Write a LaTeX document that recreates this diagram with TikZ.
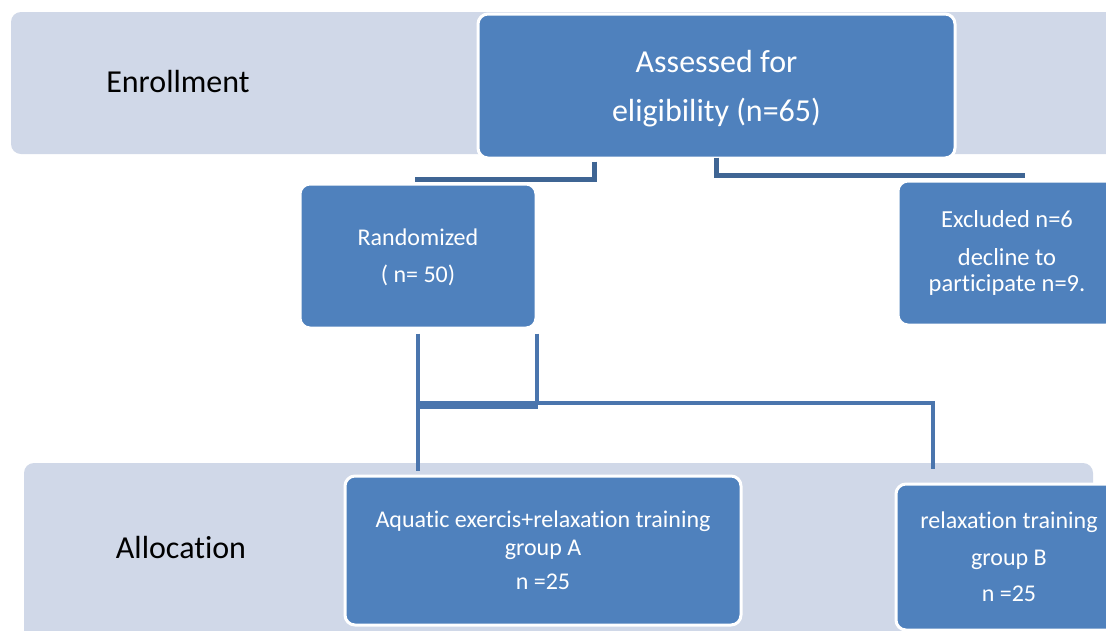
\documentclass[tikz,border=0pt]{standalone}
\usepackage{fontspec}
\setmainfont{Carlito}[Ligatures={NoCommon}]
\usetikzlibrary{calc}
\definecolor{bandfill}{HTML}{D0D8E8}
\definecolor{boxblue}{HTML}{4F81BD}
\definecolor{lineA}{HTML}{3F6594}
\definecolor{lineB}{HTML}{4A75AD}
\tikzset{
  bandshape/.style={fill=bandfill, rounded corners=10pt},
  bandlabel/.style={text=black, font=\fontsize{32}{38}\selectfont, inner sep=0pt},
  bluebox/.style={rectangle, rounded corners=10pt, fill=boxblue, draw=white, line width=3pt, text=white, align=center, inner sep=0pt},
  connA/.style={draw=lineA, line width=4.5pt},
  connB/.style={draw=lineB, line width=4.5pt},
}
\begin{document}
\begin{tikzpicture}[x=1pt,y=-1pt]
\useasboundingbox (0,0) rectangle (1106,630);
\clip (0,0) rectangle (1106,630);
\fill[white] (0,0) rectangle (1106,630);
% bands
\fill[bandshape] (11,12) rectangle (1140,154);
\fill[bandshape] (24,463) rectangle (1093,650);
\node[bandlabel] (enr) at (178,82) {Enrollment};
\node[bandlabel] (alloc) at (181,547) {Allocation};
% boxes
\node[bluebox, minimum width=477pt, minimum height=144pt, font=\fontsize{32}{37}\selectfont, text depth=0pt] (assess) at (716.5,86) {Assessed for\\[12pt]eligibility (n=65)};
\node[bluebox, minimum width=236pt, minimum height=144pt, font=\fontsize{24}{29}\selectfont, text depth=0pt] (rand) at (418,256) {Randomized\\[8pt]( n= 50)};
\node[bluebox, minimum width=218pt, minimum height=144pt, font=\fontsize{24.5}{26}\selectfont] (excl) at (1007,253) {Excluded n=6\\[12pt]decline to\\participate n=9.};
\node[bluebox, minimum width=396pt, minimum height=149pt, font=\fontsize{24}{28}\selectfont] (grpA) at (543,550.5) {Aquatic exercis+relaxation training\\group A\\[6pt]n =25};
\node[bluebox, minimum width=226pt, minimum height=146pt, font=\fontsize{24}{36.5}\selectfont] (grpB) at (1009,557) {relaxation training\\group B\\n =25};
% connectors
\draw[connA] ([xshift=-122pt,yshift=-2pt]assess.south) |- ([xshift=-3pt,yshift=3pt]rand.north);
\draw[connA] ([yshift=2pt]assess.south) |- ([xshift=18pt,yshift=4pt]excl.north);
\coordinate (hub) at ($(rand.south)+(0,75)$);
\draw[connB] ([yshift=-4pt]rand.south) -- ([yshift=4pt]rand.south |- grpA.north);
\draw[connB] ([xshift=-0.5pt,yshift=-4pt]rand.south east) -- ([xshift=-0.5pt]hub -| rand.south east);
\draw[lineB, line width=8pt] (hub) -- (hub -| rand.south east);
\draw[connB, line width=4pt] ([yshift=2pt]hub) -| ([xshift=-76pt,yshift=14pt]grpB.north);
\end{tikzpicture}
\end{document}
